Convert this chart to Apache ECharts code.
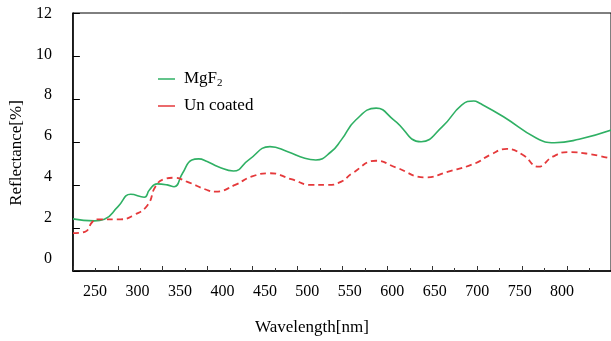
<!DOCTYPE html>
<html>
<head>
<meta charset="utf-8">
<script src="https://cdn.jsdelivr.net/npm/echarts@6/dist/echarts.min.js"></script>
<style>
  html, body { margin: 0; padding: 0; background: #fff; }
  #chart { width: 611px; height: 341px; }
</style>
</head>
<body>
<div id="chart"></div>
<script>
// MgF2 coated
let mgf2Wl = [224, 249, 261, 277, 292, 308, 314, 323, 335, 343, 353, 364, 372, 382, 395, 413, 431, 456, 477, 497, 510, 528, 540, 557, 581, 602, 634, 659, 682, 696, 703, 731, 770, 791, 820, 858];
let mgf2R = [1.96, 1.86, 1.94, 2.56, 3.16, 3.02, 3.37, 3.67, 3.62, 3.53, 4.19, 4.84, 4.89, 4.76, 4.51, 4.30, 4.84, 5.49, 5.24, 4.92, 4.84, 5.24, 5.82, 6.79, 7.37, 6.79, 5.73, 6.47, 7.53, 7.72, 7.61, 6.95, 5.90, 5.68, 5.85, 6.30];
// un coated
let bareWl = [224, 238, 247, 253, 280, 296, 312, 321, 331, 343, 358, 382, 392, 415, 434, 456, 481, 505, 524, 540, 553, 581, 604, 639, 666, 698, 715, 735, 754, 772, 789, 807, 832, 858];
let bareR = [1.26, 1.33, 1.82, 1.94, 1.94, 2.15, 2.64, 3.53, 3.90, 3.97, 3.78, 3.37, 3.29, 3.62, 4.02, 4.19, 3.90, 3.62, 3.62, 3.78, 4.19, 4.80, 4.48, 3.99, 4.27, 4.68, 5.08, 5.38, 5.08, 4.51, 5.00, 5.22, 5.13, 4.90];

let xLabels = [250, 300, 350, 400, 450, 500, 550, 600, 650, 700, 750, 800];
let yLabels = [0, 2, 4, 6, 8, 10, 12];
let seriesNames = ['MgF2', 'Un coated'];

function pairs(xs, ys) {
  return xs.map((x, i) => [x, ys[i]]);
}

let font = 'Liberation Serif';
let chart = echarts.init(document.getElementById('chart'), null, { renderer: 'canvas' });

let option = {
  backgroundColor: '#fff',
  animation: false,
  grid: {
    left: 70, right: -1, top: 13, bottom: 70,
    show: true, borderColor: '#000', borderWidth: 1
  },
  legend: {
    orient: 'vertical',
    left: 153, top: 64,
    icon: 'rect',
    itemWidth: 17, itemHeight: 1.5,
    itemGap: 7,
    data: seriesNames,
    formatter: function (name) {
      return name === 'MgF2' ? 'MgF{sub|2}' : name;
    },
    textStyle: {
      fontFamily: font, fontSize: 17, color: '#000', lineHeight: 20,
      padding: [0, 0, 0, 4],
      rich: {
        sub: { fontFamily: font, fontSize: 11, color: '#000', padding: [9, 0, 0, 0] }
      }
    }
  },
  xAxis: [{
    // wavelength scale of the printed labels
    type: 'value',
    min: 223.9, max: 857.6,
    name: 'Wavelength[nm]',
    nameLocation: 'middle',
    nameGap: 48,
    nameTextStyle: { fontFamily: font, fontSize: 17, color: '#000', padding: [0, 60, 0, 0] },
    axisLine: { show: true, onZero: false, lineStyle: { color: '#000', width: 1.5 } },
    axisTick: { show: false },
    splitLine: { show: false },
    axisLabel: {
      customValues: xLabels,
      margin: 13,
      fontFamily: font, fontSize: 16, color: '#000'
    }
  }, {
    // tick marks
    type: 'value',
    position: 'bottom',
    min: 200, max: 799, interval: 50,
    axisLine: { show: false, onZero: false },
    axisTick: { show: true, inside: true, length: 5, lineStyle: { color: '#333' } },
    minorTick: { show: true, splitNumber: 2, length: 3, lineStyle: { color: '#333' } },
    axisLabel: { show: false },
    splitLine: { show: false }
  }],
  yAxis: [{
    type: 'value',
    min: -0.587, max: 12.02,
    name: 'Reflectance[%]',
    nameLocation: 'middle',
    nameGap: 46,
    nameTextStyle: { fontFamily: font, fontSize: 17, color: '#000', padding: [0, 22, 0, 0] },
    axisLine: { show: true, onZero: false, lineStyle: { color: '#000', width: 1.5 } },
    axisTick: { show: false },
    splitLine: { show: false },
    axisLabel: {
      customValues: yLabels,
      margin: 21,
      fontFamily: font, fontSize: 16, color: '#000'
    }
  }, {
    type: 'value',
    position: 'left',
    min: 0, max: 12, interval: 2,
    axisLine: { show: false, onZero: false },
    axisTick: { show: true, inside: true, length: 7, lineStyle: { color: '#000' } },
    axisLabel: { show: false },
    splitLine: { show: false }
  }],
  series: [{
    name: seriesNames[0],
    type: 'line',
    xAxisIndex: 0, yAxisIndex: 0,
    data: pairs(mgf2Wl, mgf2R),
    smooth: 0.5,
    symbol: 'none',
    itemStyle: { color: '#2fb064' },
    lineStyle: { color: '#2fb064', width: 1.6 }
  }, {
    name: seriesNames[1],
    type: 'line',
    xAxisIndex: 0, yAxisIndex: 0,
    data: pairs(bareWl, bareR),
    smooth: 0.5,
    symbol: 'none',
    itemStyle: { color: '#e5393b' },
    lineStyle: { color: '#e5393b', width: 1.8, type: [6, 4] }
  }]
};
chart.setOption(option);
</script>
</body>
</html>
